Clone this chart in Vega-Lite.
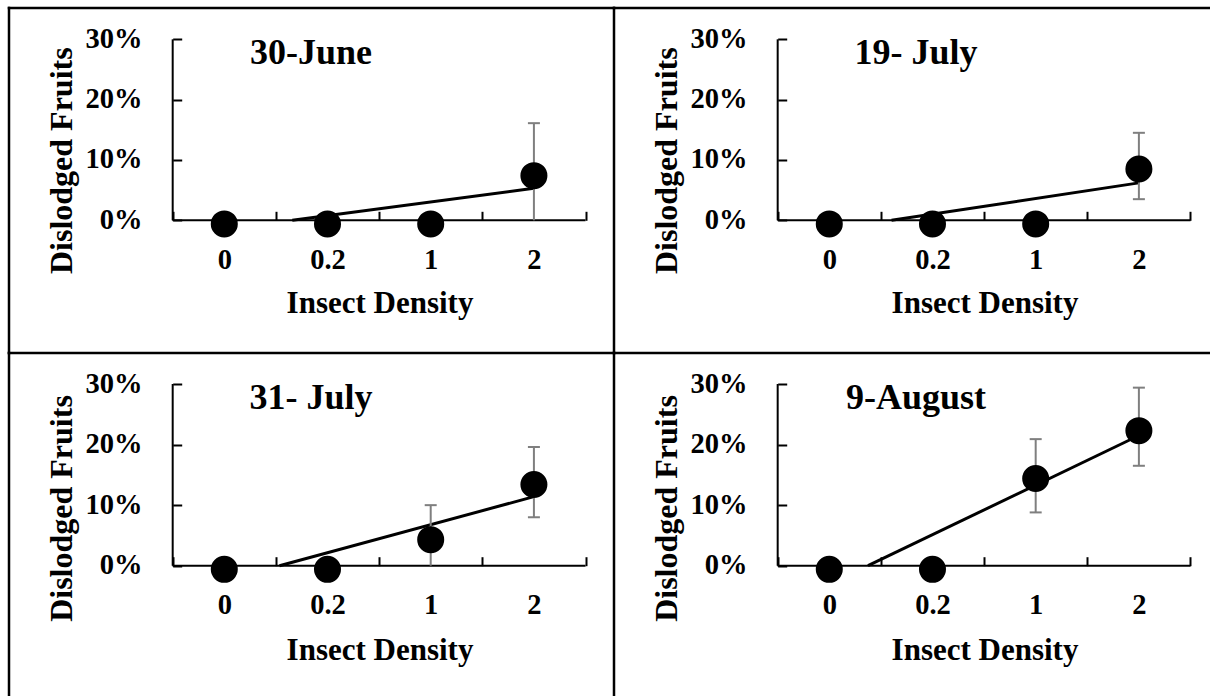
{
  "$schema": "https://vega.github.io/schema/vega-lite/v6.json",
  "background": "white",
  "padding": {"left": 7, "top": 6, "right": 0, "bottom": 0},
  "columns": 2,
  "spacing": 0,
  "bounds": "flush",
  "align": "each",
  "datasets": {
    "frame": [{}],
    "panels": [
      {"date": "30-June"}, {"date": "19- July"}, {"date": "31- July"}, {"date": "9-August"}
    ],
    "points": [
      {"date": "30-June", "density": "0", "pos": 1, "value": -0.006},
      {"date": "30-June", "density": "0.2", "pos": 2, "value": -0.006},
      {"date": "30-June", "density": "1", "pos": 3, "value": -0.006},
      {"date": "30-June", "density": "2", "pos": 4, "value": 0.074},
      {"date": "19- July", "density": "0", "pos": 1, "value": -0.006},
      {"date": "19- July", "density": "0.2", "pos": 2, "value": -0.006},
      {"date": "19- July", "density": "1", "pos": 3, "value": -0.006},
      {"date": "19- July", "density": "2", "pos": 4, "value": 0.085},
      {"date": "31- July", "density": "0", "pos": 1, "value": -0.006},
      {"date": "31- July", "density": "0.2", "pos": 2, "value": -0.006},
      {"date": "31- July", "density": "1", "pos": 3, "value": 0.043},
      {"date": "31- July", "density": "2", "pos": 4, "value": 0.134},
      {"date": "9-August", "density": "0", "pos": 1, "value": -0.006},
      {"date": "9-August", "density": "0.2", "pos": 2, "value": -0.006},
      {"date": "9-August", "density": "1", "pos": 3, "value": 0.144},
      {"date": "9-August", "density": "2", "pos": 4, "value": 0.223}
    ],
    "errors": [
      {"date": "30-June", "pos": 4, "lo": 0, "hi": 0.161},
      {"date": "19- July", "pos": 4, "lo": 0.035, "hi": 0.145},
      {"date": "31- July", "pos": 3, "lo": 0, "hi": 0.100},
      {"date": "31- July", "pos": 4, "lo": 0.080, "hi": 0.196},
      {"date": "9-August", "pos": 3, "lo": 0.088, "hi": 0.209},
      {"date": "9-August", "pos": 4, "lo": 0.165, "hi": 0.294}
    ],
    "trend": [
      {"date": "30-June", "pos": 1.659, "value": 0},
      {"date": "30-June", "pos": 4, "value": 0.053},
      {"date": "19- July", "pos": 1.603, "value": 0},
      {"date": "19- July", "pos": 4, "value": 0.062},
      {"date": "31- July", "pos": 1.535, "value": 0},
      {"date": "31- July", "pos": 4, "value": 0.114},
      {"date": "9-August", "pos": 1.375, "value": 0},
      {"date": "9-August", "pos": 4, "value": 0.215}
    ]
  },
  "concat": [
    {
      "width": 605, "height": 345,
      "layer": [
        {"data": {"name": "frame"}, "mark": {"type": "rule", "color": "black", "strokeWidth": 2.5, "strokeCap": "square"},
         "encoding": {"x": {"datum": -1.086, "type": "quantitative", "scale": {"domain": [-1.086, 4.776], "nice": false, "zero": false}}}},
        {"data": {"name": "frame"}, "mark": {"type": "rule", "color": "black", "strokeWidth": 2.5, "strokeCap": "square"},
         "encoding": {"y": {"datum": 0.3519, "type": "quantitative", "scale": {"domain": [-0.22, 0.3519], "nice": false, "zero": false}}}},
        {"data": {"name": "frame"}, "mark": {"type": "rule", "color": "black", "strokeWidth": 2},
         "encoding": {"x": {"datum": 0.5, "type": "quantitative"}, "y": {"datum": 0, "type": "quantitative"}, "y2": {"datum": 0.3}}},
        {"data": {"name": "frame"}, "mark": {"type": "rule", "color": "black", "strokeWidth": 2},
         "encoding": {"y": {"datum": 0, "type": "quantitative"}, "x": {"datum": 0.5, "type": "quantitative"}, "x2": {"datum": 4.5}}},
        {"data": {"name": "panels"}, "transform": [{"filter": "datum.date === '30-June'"}],
         "mark": {"type": "text", "align": "center", "baseline": "alphabetic", "font": "Liberation Serif", "fontWeight": "bold", "fontSize": 36, "color": "black"},
         "encoding": {"text": {"field": "date"}, "x": {"datum": 1.84, "type": "quantitative"}, "y": {"datum": 0.2586, "type": "quantitative"}}},
        {"data": {"name": "trend"}, "transform": [{"filter": "datum.date === '30-June'"}],
         "mark": {"type": "line", "color": "black", "strokeWidth": 3},
         "encoding": {"x": {"field": "pos", "type": "quantitative"}, "y": {"field": "value", "type": "quantitative"}}},
        {"data": {"name": "errors"}, "transform": [{"filter": "datum.date === '30-June'"}],
         "mark": {"type": "rule", "color": "#7f7f7f", "strokeWidth": 2},
         "encoding": {"x": {"field": "pos", "type": "quantitative"}, "y": {"field": "lo", "type": "quantitative"}, "y2": {"field": "hi"}}},
        {"data": {"name": "errors"}, "transform": [{"filter": "datum.date === '30-June'"}],
         "mark": {"type": "tick", "orient": "horizontal", "size": 12, "thickness": 2, "color": "#7f7f7f", "opacity": 1},
         "encoding": {"x": {"field": "pos", "type": "quantitative"}, "y": {"field": "hi", "type": "quantitative"}}},
        {"data": {"name": "errors"}, "transform": [{"filter": "datum.date === '30-June' && datum.lo > 0"}],
         "mark": {"type": "tick", "orient": "horizontal", "size": 12, "thickness": 2, "color": "#7f7f7f", "opacity": 1},
         "encoding": {"x": {"field": "pos", "type": "quantitative"}, "y": {"field": "lo", "type": "quantitative"}}},
        {"data": {"name": "points"}, "transform": [{"filter": "datum.date === '30-June'"}],
         "mark": {"type": "circle", "size": 730, "color": "black", "opacity": 1},
         "encoding": {
           "x": {"field": "pos", "type": "quantitative", "axis": {"orient": "bottom", "offset": -132.7, "values": [0.5, 1.5, 2.5, 3.5, 4.5], "labelExpr": "datum.value == 0.5 ? '0' : datum.value == 1.5 ? '0.2' : datum.value == 2.5 ? '1' : datum.value == 3.5 ? '2' : ''", "labelOffset": 51.6, "labelPadding": 34, "title": "Insect Density", "titleX": 370.5, "titleY": 92.5, "titleBaseline": "alphabetic"}},
           "y": {"field": "value", "type": "quantitative", "axis": {"orient": "left", "offset": -163.7, "values": [0, 0.1, 0.2, 0.3], "format": ".0%", "labelPadding": 39.7, "labelOffset": -1, "title": "Dislodged Fruits", "titleX": -101.5, "titleY": 152.2, "titleBaseline": "alphabetic"}}
         }}
      ]
    },
    {
      "width": 596, "height": 345,
      "layer": [
        {"data": {"name": "frame"}, "mark": {"type": "rule", "color": "black", "strokeWidth": 2.5, "strokeCap": "square"},
         "encoding": {"x": {"datum": -1.086, "type": "quantitative", "scale": {"domain": [-1.086, 4.689], "nice": false, "zero": false}}}},
        {"data": {"name": "frame"}, "mark": {"type": "rule", "color": "black", "strokeWidth": 2.5, "strokeCap": "square"},
         "encoding": {"y": {"datum": 0.3519, "type": "quantitative", "scale": {"domain": [-0.22, 0.3519], "nice": false, "zero": false}}}},
        {"data": {"name": "frame"}, "mark": {"type": "rule", "color": "black", "strokeWidth": 2},
         "encoding": {"x": {"datum": 0.5, "type": "quantitative"}, "y": {"datum": 0, "type": "quantitative"}, "y2": {"datum": 0.3}}},
        {"data": {"name": "frame"}, "mark": {"type": "rule", "color": "black", "strokeWidth": 2},
         "encoding": {"y": {"datum": 0, "type": "quantitative"}, "x": {"datum": 0.5, "type": "quantitative"}, "x2": {"datum": 4.5}}},
        {"data": {"name": "panels"}, "transform": [{"filter": "datum.date === '19- July'"}],
         "mark": {"type": "text", "align": "center", "baseline": "alphabetic", "font": "Liberation Serif", "fontWeight": "bold", "fontSize": 36, "color": "black"},
         "encoding": {"text": {"field": "date"}, "x": {"datum": 1.84, "type": "quantitative"}, "y": {"datum": 0.2586, "type": "quantitative"}}},
        {"data": {"name": "trend"}, "transform": [{"filter": "datum.date === '19- July'"}],
         "mark": {"type": "line", "color": "black", "strokeWidth": 3},
         "encoding": {"x": {"field": "pos", "type": "quantitative"}, "y": {"field": "value", "type": "quantitative"}}},
        {"data": {"name": "errors"}, "transform": [{"filter": "datum.date === '19- July'"}],
         "mark": {"type": "rule", "color": "#7f7f7f", "strokeWidth": 2},
         "encoding": {"x": {"field": "pos", "type": "quantitative"}, "y": {"field": "lo", "type": "quantitative"}, "y2": {"field": "hi"}}},
        {"data": {"name": "errors"}, "transform": [{"filter": "datum.date === '19- July'"}],
         "mark": {"type": "tick", "orient": "horizontal", "size": 12, "thickness": 2, "color": "#7f7f7f", "opacity": 1},
         "encoding": {"x": {"field": "pos", "type": "quantitative"}, "y": {"field": "hi", "type": "quantitative"}}},
        {"data": {"name": "errors"}, "transform": [{"filter": "datum.date === '19- July' && datum.lo > 0"}],
         "mark": {"type": "tick", "orient": "horizontal", "size": 12, "thickness": 2, "color": "#7f7f7f", "opacity": 1},
         "encoding": {"x": {"field": "pos", "type": "quantitative"}, "y": {"field": "lo", "type": "quantitative"}}},
        {"data": {"name": "points"}, "transform": [{"filter": "datum.date === '19- July'"}],
         "mark": {"type": "circle", "size": 730, "color": "black", "opacity": 1},
         "encoding": {
           "x": {"field": "pos", "type": "quantitative", "axis": {"orient": "bottom", "offset": -132.7, "values": [0.5, 1.5, 2.5, 3.5, 4.5], "labelExpr": "datum.value == 0.5 ? '0' : datum.value == 1.5 ? '0.2' : datum.value == 2.5 ? '1' : datum.value == 3.5 ? '2' : ''", "labelOffset": 51.6, "labelPadding": 34, "title": "Insect Density", "titleX": 370.5, "titleY": 92.5, "titleBaseline": "alphabetic"}},
           "y": {"field": "value", "type": "quantitative", "axis": {"orient": "left", "offset": -163.7, "values": [0, 0.1, 0.2, 0.3], "format": ".0%", "labelPadding": 39.7, "labelOffset": -1, "title": "Dislodged Fruits", "titleX": -101.5, "titleY": 152.2, "titleBaseline": "alphabetic"}}
         }}
      ]
    },
    {
      "width": 605, "height": 343,
      "layer": [
        {"data": {"name": "frame"}, "mark": {"type": "rule", "color": "black", "strokeWidth": 2.5, "strokeCap": "square"},
         "encoding": {"x": {"datum": -1.086, "type": "quantitative", "scale": {"domain": [-1.086, 4.776], "nice": false, "zero": false}}}},
        {"data": {"name": "frame"}, "mark": {"type": "rule", "color": "black", "strokeWidth": 2.5, "strokeCap": "square"},
         "encoding": {"y": {"datum": 0.3512, "type": "quantitative", "scale": {"domain": [-0.2151, 0.3512], "nice": false, "zero": false}}}},
        {"data": {"name": "frame"}, "mark": {"type": "rule", "color": "black", "strokeWidth": 2},
         "encoding": {"x": {"datum": 0.5, "type": "quantitative"}, "y": {"datum": 0, "type": "quantitative"}, "y2": {"datum": 0.3}}},
        {"data": {"name": "frame"}, "mark": {"type": "rule", "color": "black", "strokeWidth": 2},
         "encoding": {"y": {"datum": 0, "type": "quantitative"}, "x": {"datum": 0.5, "type": "quantitative"}, "x2": {"datum": 4.5}}},
        {"data": {"name": "panels"}, "transform": [{"filter": "datum.date === '31- July'"}],
         "mark": {"type": "text", "align": "center", "baseline": "alphabetic", "font": "Liberation Serif", "fontWeight": "bold", "fontSize": 36, "color": "black"},
         "encoding": {"text": {"field": "date"}, "x": {"datum": 1.84, "type": "quantitative"}, "y": {"datum": 0.2587, "type": "quantitative"}}},
        {"data": {"name": "trend"}, "transform": [{"filter": "datum.date === '31- July'"}],
         "mark": {"type": "line", "color": "black", "strokeWidth": 3},
         "encoding": {"x": {"field": "pos", "type": "quantitative"}, "y": {"field": "value", "type": "quantitative"}}},
        {"data": {"name": "errors"}, "transform": [{"filter": "datum.date === '31- July'"}],
         "mark": {"type": "rule", "color": "#7f7f7f", "strokeWidth": 2},
         "encoding": {"x": {"field": "pos", "type": "quantitative"}, "y": {"field": "lo", "type": "quantitative"}, "y2": {"field": "hi"}}},
        {"data": {"name": "errors"}, "transform": [{"filter": "datum.date === '31- July'"}],
         "mark": {"type": "tick", "orient": "horizontal", "size": 12, "thickness": 2, "color": "#7f7f7f", "opacity": 1},
         "encoding": {"x": {"field": "pos", "type": "quantitative"}, "y": {"field": "hi", "type": "quantitative"}}},
        {"data": {"name": "errors"}, "transform": [{"filter": "datum.date === '31- July' && datum.lo > 0"}],
         "mark": {"type": "tick", "orient": "horizontal", "size": 12, "thickness": 2, "color": "#7f7f7f", "opacity": 1},
         "encoding": {"x": {"field": "pos", "type": "quantitative"}, "y": {"field": "lo", "type": "quantitative"}}},
        {"data": {"name": "points"}, "transform": [{"filter": "datum.date === '31- July'"}],
         "mark": {"type": "circle", "size": 730, "color": "black", "opacity": 1},
         "encoding": {
           "x": {"field": "pos", "type": "quantitative", "axis": {"orient": "bottom", "offset": -130.3, "values": [0.5, 1.5, 2.5, 3.5, 4.5], "labelExpr": "datum.value == 0.5 ? '0' : datum.value == 1.5 ? '0.2' : datum.value == 2.5 ? '1' : datum.value == 3.5 ? '2' : ''", "labelOffset": 51.6, "labelPadding": 34, "title": "Insect Density", "titleX": 370.5, "titleY": 93.3, "titleBaseline": "alphabetic"}},
           "y": {"field": "value", "type": "quantitative", "axis": {"orient": "left", "offset": -163.7, "values": [0, 0.1, 0.2, 0.3], "format": ".0%", "labelPadding": 39.7, "labelOffset": -1, "title": "Dislodged Fruits", "titleX": -101.5, "titleY": 155, "titleBaseline": "alphabetic"}}
         }}
      ]
    },
    {
      "width": 596, "height": 343,
      "layer": [
        {"data": {"name": "frame"}, "mark": {"type": "rule", "color": "black", "strokeWidth": 2.5, "strokeCap": "square"},
         "encoding": {"x": {"datum": -1.086, "type": "quantitative", "scale": {"domain": [-1.086, 4.689], "nice": false, "zero": false}}}},
        {"data": {"name": "frame"}, "mark": {"type": "rule", "color": "black", "strokeWidth": 2.5, "strokeCap": "square"},
         "encoding": {"y": {"datum": 0.3512, "type": "quantitative", "scale": {"domain": [-0.2151, 0.3512], "nice": false, "zero": false}}}},
        {"data": {"name": "frame"}, "mark": {"type": "rule", "color": "black", "strokeWidth": 2},
         "encoding": {"x": {"datum": 0.5, "type": "quantitative"}, "y": {"datum": 0, "type": "quantitative"}, "y2": {"datum": 0.3}}},
        {"data": {"name": "frame"}, "mark": {"type": "rule", "color": "black", "strokeWidth": 2},
         "encoding": {"y": {"datum": 0, "type": "quantitative"}, "x": {"datum": 0.5, "type": "quantitative"}, "x2": {"datum": 4.5}}},
        {"data": {"name": "panels"}, "transform": [{"filter": "datum.date === '9-August'"}],
         "mark": {"type": "text", "align": "center", "baseline": "alphabetic", "font": "Liberation Serif", "fontWeight": "bold", "fontSize": 36, "color": "black"},
         "encoding": {"text": {"field": "date"}, "x": {"datum": 1.84, "type": "quantitative"}, "y": {"datum": 0.2587, "type": "quantitative"}}},
        {"data": {"name": "trend"}, "transform": [{"filter": "datum.date === '9-August'"}],
         "mark": {"type": "line", "color": "black", "strokeWidth": 3},
         "encoding": {"x": {"field": "pos", "type": "quantitative"}, "y": {"field": "value", "type": "quantitative"}}},
        {"data": {"name": "errors"}, "transform": [{"filter": "datum.date === '9-August'"}],
         "mark": {"type": "rule", "color": "#7f7f7f", "strokeWidth": 2},
         "encoding": {"x": {"field": "pos", "type": "quantitative"}, "y": {"field": "lo", "type": "quantitative"}, "y2": {"field": "hi"}}},
        {"data": {"name": "errors"}, "transform": [{"filter": "datum.date === '9-August'"}],
         "mark": {"type": "tick", "orient": "horizontal", "size": 12, "thickness": 2, "color": "#7f7f7f", "opacity": 1},
         "encoding": {"x": {"field": "pos", "type": "quantitative"}, "y": {"field": "hi", "type": "quantitative"}}},
        {"data": {"name": "errors"}, "transform": [{"filter": "datum.date === '9-August' && datum.lo > 0"}],
         "mark": {"type": "tick", "orient": "horizontal", "size": 12, "thickness": 2, "color": "#7f7f7f", "opacity": 1},
         "encoding": {"x": {"field": "pos", "type": "quantitative"}, "y": {"field": "lo", "type": "quantitative"}}},
        {"data": {"name": "points"}, "transform": [{"filter": "datum.date === '9-August'"}],
         "mark": {"type": "circle", "size": 730, "color": "black", "opacity": 1},
         "encoding": {
           "x": {"field": "pos", "type": "quantitative", "axis": {"orient": "bottom", "offset": -130.3, "values": [0.5, 1.5, 2.5, 3.5, 4.5], "labelExpr": "datum.value == 0.5 ? '0' : datum.value == 1.5 ? '0.2' : datum.value == 2.5 ? '1' : datum.value == 3.5 ? '2' : ''", "labelOffset": 51.6, "labelPadding": 34, "title": "Insect Density", "titleX": 370.5, "titleY": 93.3, "titleBaseline": "alphabetic"}},
           "y": {"field": "value", "type": "quantitative", "axis": {"orient": "left", "offset": -163.7, "values": [0, 0.1, 0.2, 0.3], "format": ".0%", "labelPadding": 39.7, "labelOffset": -1, "title": "Dislodged Fruits", "titleX": -101.5, "titleY": 155, "titleBaseline": "alphabetic"}}
         }}
      ]
    }
  ],
  "config": {
    "view": {"stroke": null},
    "font": "Liberation Serif",
    "axis": {
      "grid": false, "domain": false,
      "tickColor": "black", "tickWidth": 2, "tickSize": -9,
      "labelFont": "Liberation Serif", "labelFontWeight": "bold", "labelFontSize": 28.5, "labelColor": "black",
      "labelOverlap": false, "labelFlush": false,
      "titleFont": "Liberation Serif", "titleFontWeight": "bold", "titleFontSize": 31, "titleColor": "black"
    },
    "axisLeft": {"titleFontSize": 32}
  }
}
